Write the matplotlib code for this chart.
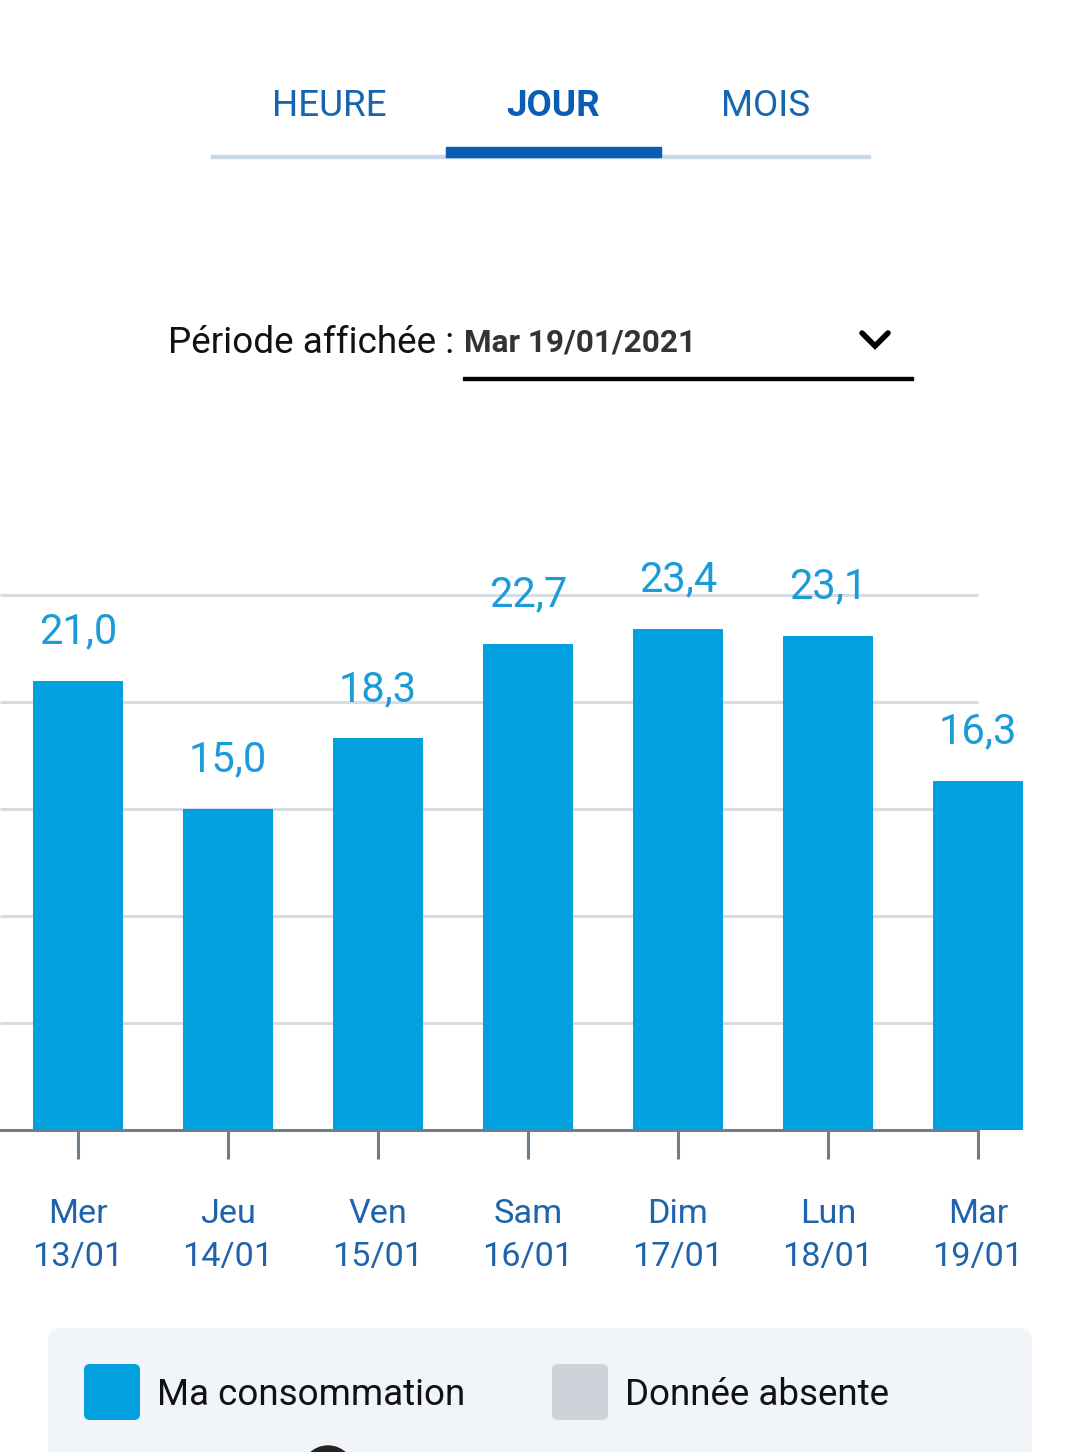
import numpy as np
import matplotlib
matplotlib.use("Agg")
import matplotlib.pyplot as plt
from matplotlib.patches import Rectangle, FancyBboxPatch, Circle

plt.rcParams["font.family"] = ["Roboto", "DejaVu Sans"]

# data
days = ["Mer", "Jeu", "Ven", "Sam", "Dim", "Lun", "Mar"]
dates = ["13/01", "14/01", "15/01", "16/01", "17/01", "18/01", "19/01"]
values = [21.0, 15.0, 18.3, 22.7, 23.4, 23.1, 16.3]
grid_levels = [5, 10, 15, 20, 25]
tabs = ["HEURE", "JOUR", "MOIS"]
legend_labels = ["Ma consommation", "Donnée absente"]

W, H = 1080, 1452
BAR = "#00a1de"
LABEL = "#1b9bd7"
TICKTXT = "#1f63ad"
GRID = "#d5dce3"
AXIS = "#6f7d8b"

fig = plt.figure(figsize=(W / 100, H / 100), dpi=100)
fig.patch.set_facecolor("white")

# chart axes, placed in pixel units
base_px, top_px = 1130, 540
px_per_unit = 21.4
ax = fig.add_axes([0, (H - base_px) / H, 1, (base_px - top_px) / H])
ax.set_xlim(-78 / 150, (W - 78) / 150)
ax.set_ylim(0, (base_px - top_px) / px_per_unit)
for s in ["top", "right", "left"]:
    ax.spines[s].set_visible(False)
ax.spines["bottom"].set_bounds(ax.get_xlim()[0], len(values) - 1)
ax.spines["bottom"].set_color(AXIS)
ax.spines["bottom"].set_linewidth(2.2)
ax.set_yticks([])

x = np.arange(len(values))
ax.hlines(grid_levels, ax.get_xlim()[0], len(values) - 1, color=GRID, lw=2.2, zorder=1)
bars = ax.bar(x, values, width=0.6, color=BAR, zorder=2)
for xi, v in zip(x, values):
    ax.annotate(f"{v:.1f}".replace(".", ","), (xi, v), xytext=(0, 27),
                textcoords="offset points", ha="center", va="baseline",
                fontsize=30, color=LABEL, zorder=3)

ax.set_xticks(x)
ax.set_xticklabels([f"{d}\n{t}" for d, t in zip(days, dates)],
                   fontsize=24.7, color=TICKTXT, linespacing=1.45)
ax.tick_params(axis="x", length=21, width=2.2, color=AXIS, pad=28)

# overlay in pixel coords for the app UI bits
ui = fig.add_axes([0, 0, 1, 1])
ui.set_xlim(0, W)
ui.set_ylim(H, 0)
ui.axis("off")
ui.patch.set_alpha(0)

tab_x = [329, 553, 766]
for name, tx in zip(tabs, tab_x):
    ui.text(tx, 106, name, ha="center", va="center", fontsize=26.5,
            color="#1565b0" if name != "JOUR" else "#0b5db3",
            fontweight="bold" if name == "JOUR" else "normal")
ui.add_patch(Rectangle((211, 154.5), 659, 3, color="#c8d8e6"))
ui.add_patch(Rectangle((446, 147), 215, 10, color="#0b5db3"))

ui.text(168, 343, "Période affichée :", ha="left", va="center", fontsize=26.6, color="#111111")
ui.text(464, 342, "Mar 19/01/2021", ha="left", va="center", fontsize=22.7,
        fontweight="bold", color="#333333")
ui.plot([862, 875, 888], [333, 346, 333], color="black", lw=4, solid_capstyle="round",
        solid_joinstyle="miter")
ui.add_patch(Rectangle((463, 376.5), 450, 3, color="black"))

# legend panel
ui.add_patch(FancyBboxPatch((48, 1328), 984, 200, boxstyle="round,pad=0,rounding_size=12",
                            facecolor="#f1f5f9", edgecolor="none"))
swatches = [(84, BAR), (552, "#cdd2d9")]
for (sx, col), lab in zip(swatches, legend_labels):
    ui.add_patch(FancyBboxPatch((sx, 1364), 56, 56, boxstyle="round,pad=0,rounding_size=6",
                                facecolor=col, edgecolor="none"))
    ui.text(sx + 73, 1395, lab, ha="left", va="center", fontsize=26.5, color="#111111")
ui.add_patch(Circle((328, 1472), 26, color="#222222"))

fig.savefig("out.png", dpi=100, facecolor="white")
